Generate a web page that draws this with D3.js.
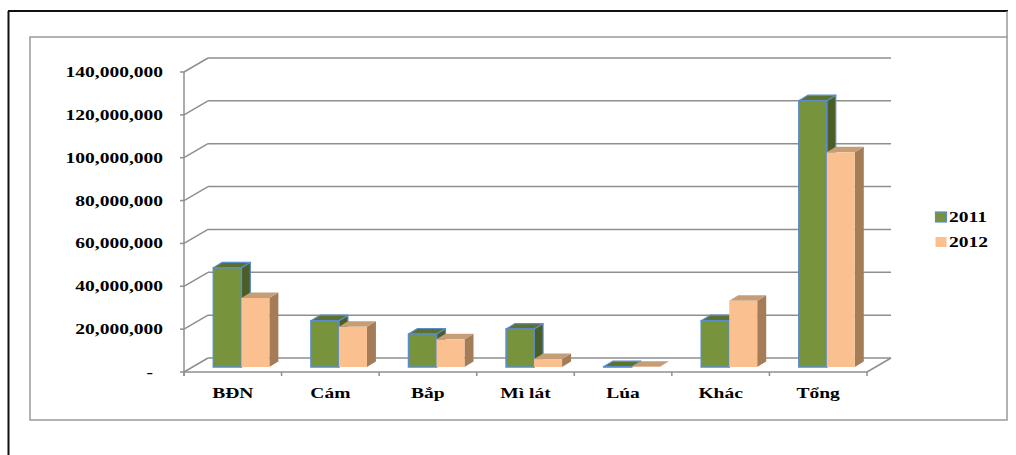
<!DOCTYPE html>
<html>
<head>
<meta charset="utf-8">
<script src="https://cdn.jsdelivr.net/npm/d3@7"></script>
<style>
  html, body { margin: 0; padding: 0; background: #fff; }
  svg { display: block; }
  text { font-family: "Liberation Serif", "Times New Roman", serif; font-weight: bold; fill: #000; }
</style>
</head>
<body>
<svg id="chart" width="1016" height="455"></svg>
<script>
// Categories and yearly values
const categories = ["BĐN", "Cám", "Bắp", "Mì lát", "Lúa", "Khác", "Tổng"];
const series = ["2011", "2012"];
const values2011 = [46300000, 21600000, 15400000, 17700000, 150000, 21600000, 124300000];
const values2012 = [32200000, 18800000, 12900000, 3700000, 150000, 30900000, 100200000];
const yTicks = [0, 20000000, 40000000, 60000000, 80000000, 100000000, 120000000, 140000000];

const svg = d3.select("#chart");

// 3D look: floor depth and bar depth offsets
const wallDX = 24, wallDY = -14;       // full floor depth
const barFront = 5 / 14;               // bar front face position in the floor depth
const barDX = 9, barDY = -5.5;         // bar own depth

const x0 = 184, x1 = 867, yBase = 372, yTop = 72;
const y = d3.scaleLinear().domain([0, 140000000]).range([yBase, yTop]);
const xBand = d3.scaleBand().domain(categories).range([x0, x1]).paddingInner(0).paddingOuter(0);
const xSub = d3.scaleBand().domain(series).range([0, 56]);

const grid = "#8f8f8f";

// Outer frame and inner chart border
svg.append("line").attr("x1", 8).attr("y1", 11).attr("x2", 1008).attr("y2", 11).attr("stroke", "#111").attr("stroke-width", 2);
svg.append("line").attr("x1", 8.5).attr("y1", 11).attr("x2", 8.5).attr("y2", 455).attr("stroke", "#111").attr("stroke-width", 2);
svg.append("rect").attr("x", 30).attr("y", 37).attr("width", 977).attr("height", 383)
  .attr("fill", "none").attr("stroke", "#999").attr("stroke-width", 1.5);
svg.append("line").attr("x1", 1007).attr("y1", 11).attr("x2", 1007).attr("y2", 37).attr("stroke", "#999").attr("stroke-width", 1.5);

// Back wall gridlines, left wall diagonals and tick labels
const gAxis = svg.append("g");
yTicks.forEach(t => {
  const yy = y(t);
  gAxis.append("line").attr("x1", x0 + wallDX).attr("y1", yy + wallDY).attr("x2", x1 + wallDX).attr("y2", yy + wallDY)
    .attr("stroke", grid).attr("stroke-width", 1.5);
  gAxis.append("line").attr("x1", x0).attr("y1", yy).attr("x2", x0 + wallDX).attr("y2", yy + wallDY)
    .attr("stroke", grid).attr("stroke-width", 1.5);
  gAxis.append("line").attr("x1", x0 - 4).attr("y1", yy).attr("x2", x0).attr("y2", yy)
    .attr("stroke", grid).attr("stroke-width", 1.5);
});
gAxis.append("line").attr("x1", x0).attr("y1", yTop).attr("x2", x0).attr("y2", yBase + 4)
  .attr("stroke", grid).attr("stroke-width", 1.5);

// Floor front edge, right diagonal and category ticks
gAxis.append("line").attr("x1", x0).attr("y1", yBase).attr("x2", x1).attr("y2", yBase).attr("stroke", grid).attr("stroke-width", 1.5);
gAxis.append("line").attr("x1", x1).attr("y1", yBase).attr("x2", x1 + wallDX).attr("y2", yBase + wallDY).attr("stroke", grid).attr("stroke-width", 1.5);
const catEdges = categories.map(c => xBand(c)).concat([x1]);
catEdges.forEach(xx => {
  gAxis.append("line").attr("x1", xx).attr("y1", yBase).attr("x2", xx).attr("y2", yBase + 4).attr("stroke", grid).attr("stroke-width", 1.5);
});

// Stretched serif labels
function stretch(sel, k) {
  sel.each(function () {
    const len = this.getComputedTextLength();
    d3.select(this).attr("textLength", len * k).attr("lengthAdjust", "spacingAndGlyphs");
  });
}

const fmt = d3.format(",");
yTicks.forEach(t => {
  const label = t === 0 ? "-" : fmt(t);
  const tx = gAxis.append("text")
    .attr("x", t === 0 ? 153 : 163).attr("y", y(t) + 5)
    .attr("text-anchor", "end").attr("font-size", 15).text(label);
  stretch(tx, 1.3);
});

categories.forEach(c => {
  const tx = gAxis.append("text")
    .attr("x", xBand(c) + xBand.bandwidth() / 2).attr("y", 398)
    .attr("text-anchor", "middle").attr("font-size", 15).text(c);
  stretch(tx, 1.3);
});

// Bars: front face, top and side faces
const styles = {
  "2011": { front: "#77933c", top: "#5b7130", side: "#4b5e25", stroke: "#5b8ccc" },
  "2012": { front: "#fac090", top: "#c59e78", side: "#a57c58", stroke: "none" }
};
const dataBy = { "2011": values2011, "2012": values2012 };

const offX = wallDX * barFront, offY = wallDY * barFront;
const gBars = svg.append("g");
series.forEach(s => {
  const st = styles[s];
  categories.forEach((c, i) => {
    const v = dataBy[s][i];
    const bx = xBand(c) + xBand.bandwidth() / 2 - 28 + xSub(s) + offX;
    const bw = xSub.bandwidth();
    const yb = y(0) + offY;
    const yt = y(v) + offY;
    const g = gBars.append("g");
    // side
    g.append("path")
      .attr("d", `M${bx + bw},${yt} L${bx + bw + barDX},${yt + barDY} L${bx + bw + barDX},${yb + barDY} L${bx + bw},${yb} Z`)
      .attr("fill", st.side).attr("stroke", st.stroke).attr("stroke-width", 1.2).attr("stroke-linejoin", "round");
    // top
    g.append("path")
      .attr("d", `M${bx},${yt} L${bx + barDX},${yt + barDY} L${bx + bw + barDX},${yt + barDY} L${bx + bw},${yt} Z`)
      .attr("fill", st.top).attr("stroke", st.stroke).attr("stroke-width", 1.2).attr("stroke-linejoin", "round");
    // front
    g.append("rect")
      .attr("x", bx).attr("y", yt).attr("width", bw).attr("height", Math.max(0, yb - yt))
      .attr("fill", st.front).attr("stroke", st.stroke).attr("stroke-width", 1.5);
  });
});

// Legend
const legend = svg.append("g");
series.forEach((s, i) => {
  const st = styles[s];
  const ly = 217 + i * 25;
  legend.append("rect").attr("x", 935.5).attr("y", ly - 5).attr("width", 11).attr("height", 10)
    .attr("fill", st.front).attr("stroke", st.stroke).attr("stroke-width", 1.2);
  const tx = legend.append("text").attr("x", 949).attr("y", ly + 5).attr("font-size", 15).text(s);
  stretch(tx, 1.3);
});
</script>
</body>
</html>
